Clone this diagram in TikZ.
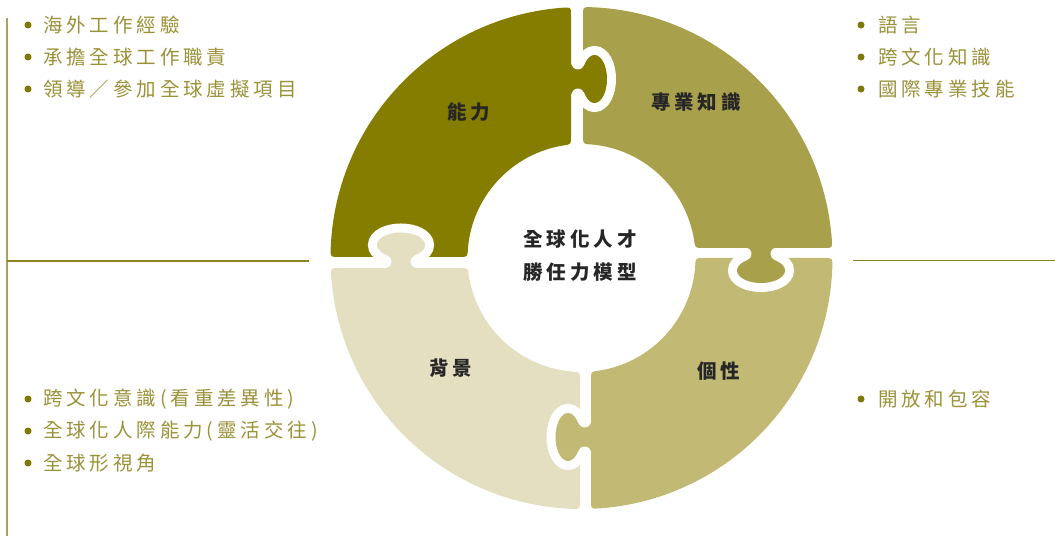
\documentclass[tikz,border=0pt]{standalone}
\usepackage{fontspec}
\setmainfont{Noto Sans CJK TC}
\usetikzlibrary{calc}
\definecolor{cTL}{HTML}{857D00}
\definecolor{cTR}{HTML}{A8A04A}
\definecolor{cBR}{HTML}{C1B974}
\definecolor{cBL}{HTML}{E3DFC0}
\definecolor{cText}{HTML}{9A9138}
\definecolor{cDot}{HTML}{807800}
\definecolor{cLab}{HTML}{262626}
\definecolor{cVline}{HTML}{ABA456}
\definecolor{cHline}{HTML}{8C8420}
\newcommand\cx{581.5}
\newcommand\cy{278}
\newcommand\RR{251}
\newcommand\rr{114}
\newcommand\rc{8}
\newcommand\dR{1.826}
\newcommand\dr{4.02}
\newcommand\itemfont{\fontsize{19.5}{24}\selectfont\addfontfeature{LetterSpace=20}}
\newcommand\labfont{\fontsize{19.5}{24}\selectfont\bfseries\addfontfeature{LetterSpace=20}}
% #1 colour, #2 Y of horizontal edge, #3 x of vertical edge, #4 side sign x, #5 side sign y
\newcommand\ringpiece[5]{%
 \pgfmathsetmacro\dyh{#2-\cy}%
 \pgfmathsetmacro\dxv{#3-\cx}%
 \pgfmathsetmacro\sHR{\RR*sqrt(1-(\dyh/\RR)*(\dyh/\RR))}%
 \pgfmathsetmacro\sHr{\rr*sqrt(1-(\dyh/\rr)*(\dyh/\rr))}%
 \pgfmathsetmacro\sVR{\RR*sqrt(1-(\dxv/\RR)*(\dxv/\RR))}%
 \pgfmathsetmacro\sVr{\rr*sqrt(1-(\dxv/\rr)*(\dxv/\rr))}%
 \pgfmathsetmacro\aHR{atan2(\dyh,(#4)*\sHR)}%
 \pgfmathsetmacro\aHr{atan2(\dyh,(#4)*\sHr)}%
 \pgfmathsetmacro\aVR{atan2((#5)*\sVR,\dxv)}%
 \pgfmathsetmacro\aVr{atan2((#5)*\sVr,\dxv)}%
 \pgfmathsetmacro\sg{(\aVr>\aHr)?1:-1}%
 \pgfmathsetmacro\hRx{\cx+(#4)*\sHR}%
 \pgfmathsetmacro\hrx{\cx+(#4)*\sHr}%
 \pgfmathsetmacro\vRy{\cy+(#5)*\sVR}%
 \pgfmathsetmacro\vry{\cy+(#5)*\sVr}%
 \pgfmathsetmacro\aa{\aHr+\sg*\dr}%
 \pgfmathsetmacro\ab{\aVr-\sg*\dr}%
 \pgfmathsetmacro\ac{\aVR-\sg*\dR}%
 \pgfmathsetmacro\ad{\aHR+\sg*\dR}%
 \fill[#1] ({\hRx-(#4)*\rc},#2) -- ({\hrx+(#4)*\rc},#2)
   .. controls (\hrx,#2) .. ({\cx+\rr*cos(\aa)},{\cy+\rr*sin(\aa)})
   arc[start angle=\aa,end angle=\ab,radius=\rr]
   .. controls (#3,\vry) .. (#3,{\vry+(#5)*\rc})
   -- (#3,{\vRy-(#5)*\rc})
   .. controls (#3,\vRy) .. ({\cx+\RR*cos(\ac)},{\cy+\RR*sin(\ac)})
   arc[start angle=\ac,end angle=\ad,radius=\RR]
   .. controls (\hRx,#2) .. ({\hRx-(#4)*\rc},#2) -- cycle;
}
% #1 colour, #2 x, #3 y of gap centre, #4 rotation
\newcommand\puzzletab[4]{%
 \begin{scope}[shift={(#2,#3)},rotate=#4]
  \begin{scope}
   \clip (0,-70) rectangle (70,70);
   \draw[white,line width=18pt,line join=round] (-25,-19) -- (-7,-19)
     .. controls (-5,-11) and (-3,-9.5) .. (1,-9.5)
     .. controls (4.5,-9.5) and (6,-11.5) .. (7.4,-14) -- (12,-14) -- (12,14) -- (7.4,14)
     .. controls (6,11.5) and (4.5,9.5) .. (1,9.5)
     .. controls (-3,9.5) and (-5,11) .. (-7,19) -- (-25,19) -- cycle;
   \draw[white,line width=18pt] (17.5,0) ellipse[x radius=12.5,y radius=24];
  \end{scope}
  \fill[#1] (-25,-19) -- (-7,-19)
     .. controls (-5,-11) and (-3,-9.5) .. (1,-9.5)
     .. controls (4.5,-9.5) and (6,-11.5) .. (7.4,-14) -- (12,-14) -- (12,14) -- (7.4,14)
     .. controls (6,11.5) and (4.5,9.5) .. (1,9.5)
     .. controls (-3,9.5) and (-5,11) .. (-7,19) -- (-25,19) -- cycle;
  \fill[#1] (17.5,0) ellipse[x radius=12.5,y radius=24];
 \end{scope}}
\tikzset{
 item/.style={anchor=west,inner sep=0pt,font=\itemfont,text=cText},
 dot/.style={circle,fill=cDot,inner sep=0pt,minimum size=7pt},
 lab/.style={inner sep=0pt,font=\labfont,text=cLab},
 vline/.style={draw=cVline,line width=2pt},
 hline/.style={draw=cHline,line width=1.5pt}
}
\begin{document}
\begin{tikzpicture}[x=1pt,y=1pt]
\useasboundingbox (0,0) rectangle (1055,536);
% ring pieces
\ringpiece{cTL}{279}{571}{-1}{1}
\ringpiece{cTR}{288}{583}{1}{1}
\ringpiece{cBR}{278}{591}{1}{-1}
\ringpiece{cBL}{268}{580}{-1}{-1}
% puzzle tabs
\puzzletab{cTL}{577}{457}{0}
\puzzletab{cTR}{761}{283}{-90}
\puzzletab{cBR}{585.5}{99}{180}
\puzzletab{cBL}{401}{273.5}{90}
% labels
\node[lab] (l1) at (469,424) {能力};
\node[lab] (l2) at (696,434) {專業知識};
\node[lab] (l3) at (451,168) {背景};
\node[lab] (l4) at (718.5,165) {個性};
\node[lab] (title1) at (580,297) {全球化人才};
\node[lab] (title2) at (580,264) {勝任力模型};
% guide lines
\coordinate (vt) at (7,518);
\coordinate (vb) at (7,0);
\coordinate (hl1) at (7,275);
\coordinate (hl2) at (309,275);
\coordinate (hr1) at (853,275.3);
\coordinate (hr2) at (1055,275.3);
\path[vline] (vt) -- (vb);
\path[hline] (hl1) -- (hl2);
\path[hline] (hr1) -- (hr2);
% left top list
\node[dot] (d1) at (28,511) {}; \node[item] (t1) at (43,511) {海外工作經驗};
\node[dot] (d2) at (28,479) {}; \node[item] (t2) at (43,479) {承擔全球工作職責};
\node[dot] (d3) at (28,447) {}; \node[item] (t3) at (43,447) {領導／參加全球虛擬項目};
% left bottom list
\node[dot] (d4) at (28,137) {}; \node[item] (t4) at (43,137) {跨文化意識(看重差異性)};
\node[dot] (d5) at (28,105) {}; \node[item] (t5) at (43,105) {全球化人際能力(靈活交往)};
\node[dot] (d6) at (28,73) {}; \node[item] (t6) at (43,73) {全球形視角};
% right top list
\node[dot] (d7) at (861,511) {}; \node[item] (t7) at (878,511) {語言};
\node[dot] (d8) at (861,479) {}; \node[item] (t8) at (878,479) {跨文化知識};
\node[dot] (d9) at (861,447) {}; \node[item] (t9) at (878,447) {國際專業技能};
% right bottom list
\node[dot] (d10) at (861,137) {}; \node[item] (t10) at (878,137) {開放和包容};
\end{tikzpicture}
\end{document}
